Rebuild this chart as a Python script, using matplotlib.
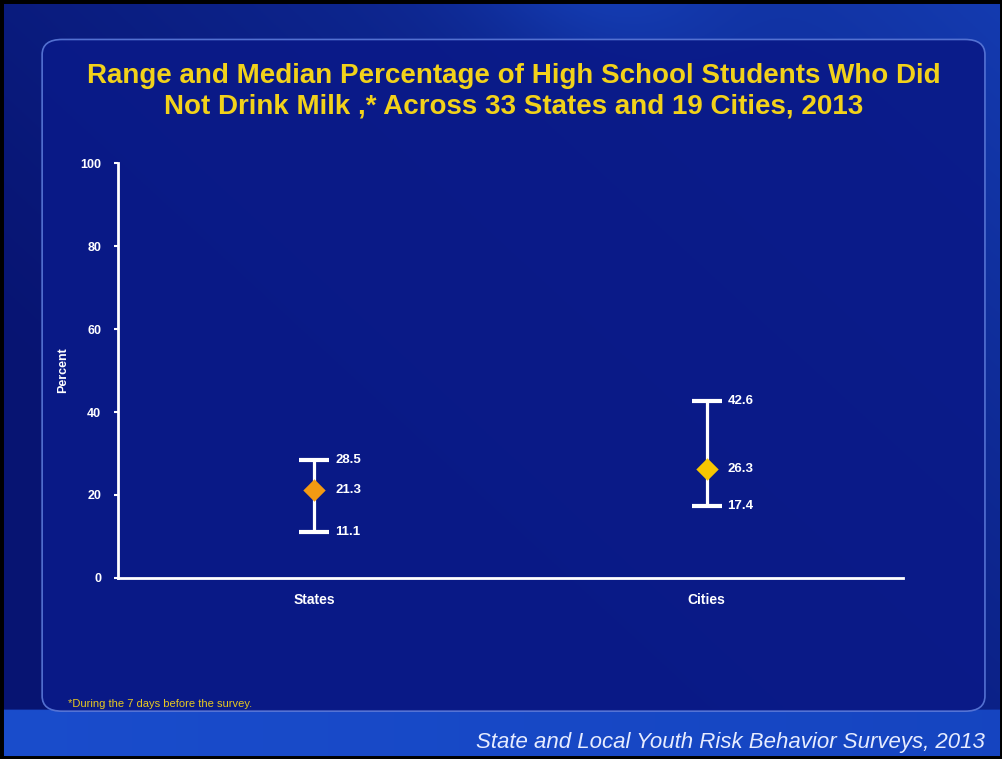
import numpy as np
import matplotlib.pyplot as plt
from matplotlib.patches import FancyBboxPatch, Rectangle

groups = ["States", "Cities"]
low = [11.1, 17.4]
median = [21.3, 26.3]
high = [28.5, 42.6]
yticks = [0, 20, 40, 60, 80, 100]
median_colors = ["#f39a12", "#f7c600"]

title = ("Range and Median Percentage of High School Students Who Did\n"
         "Not Drink Milk ,* Across 33 States and 19 Cities, 2013")
footnote = "*During the 7 days before the survey."
source = "State and Local Youth Risk Behavior Surveys, 2013"

plt.rcParams["font.family"] = ["Liberation Sans", "DejaVu Sans"]

fig = plt.figure(figsize=(10.03, 7.59), dpi=100)

# slide background
bg = fig.add_axes([0, 0, 1, 1], zorder=-10)
bg.set_xlim(0, 1)
bg.set_ylim(0, 1)
bg.axis("off")
gx, gy = np.meshgrid(np.linspace(0, 1, 400), np.linspace(0, 1, 400))
c_dark = np.array([0.03, 0.08, 0.45])
c_light = np.array([0.10, 0.30, 0.80])
t = np.clip(0.55 * gx + 0.45 * gy - 0.25, 0, 1) ** 1.3
# soft diagonal streak near the top
streak = np.exp(-((gx + 0.35 * gy - 0.95) / 0.12) ** 2) * np.clip((gy - 0.85) / 0.15, 0, 1)
t = np.clip(t + 0.25 * streak, 0, 1)
img = c_dark[None, None, :] * (1 - t[..., None]) + c_light[None, None, :] * t[..., None]
band = (gy < 0.065).astype(float)
band_col = np.array([0.10, 0.30, 0.80]) * (1 - gx[..., None] * 0.3) + np.array([0.05, 0.2, 0.65]) * gx[..., None] * 0.3
img = img * (1 - band[..., None]) + band_col * band[..., None]
bg.imshow(img, extent=[0, 1, 0, 1], origin="lower", aspect="auto")
panel = FancyBboxPatch((0.042, 0.063), 0.94, 0.885,
                       boxstyle="round,pad=0,rounding_size=0.02",
                       facecolor="#0a1a88", edgecolor="#5a78d8",
                       linewidth=1.2, alpha=0.92, transform=bg.transAxes)
bg.add_patch(panel)
bg.add_patch(Rectangle((0, 0), 1, 1, fill=False, edgecolor="black",
                       linewidth=5, transform=bg.transAxes))

ax = fig.add_axes([0.1176, 0.2385, 0.7827, 0.5467])
ax.set_facecolor("none")
x = np.array([1, 3])
lo_err = np.array(median) - np.array(low)
hi_err = np.array(high) - np.array(median)
ax.errorbar(x, median, yerr=[lo_err, hi_err], fmt="none", ecolor="white",
            elinewidth=2.3, capsize=11, capthick=3, zorder=2)
for i in range(len(groups)):
    ax.scatter(x[i], median[i], marker="D", s=130, color=median_colors[i],
               zorder=3, linewidths=0)
    for v in (low[i], median[i], high[i]):
        ax.annotate(f"{v:.1f}", (x[i], v), xytext=(15, 0),
                    textcoords="offset points", va="center", ha="left",
                    color="white", fontsize=9.5, fontweight="bold")

ax.set_xlim(0, 4)
ax.set_ylim(0, 100)
ax.set_xticks(x)
ax.set_xticklabels(groups, color="white", fontsize=10, fontweight="bold")
ax.tick_params(axis="x", length=0, pad=11)
ax.set_yticks(yticks)
ax.set_yticklabels([str(v) for v in yticks], color="white", fontsize=9,
                   fontweight="bold")
ax.tick_params(axis="y", length=3, width=1.5, color="white", pad=9)
ax.set_ylabel("Percent", color="white", fontsize=9, fontweight="bold",
              labelpad=8)
for s in ["top", "right"]:
    ax.spines[s].set_visible(False)
for s in ["left", "bottom"]:
    ax.spines[s].set_color("white")
    ax.spines[s].set_linewidth(2)

fig.text(0.512, 0.88, title, ha="center", va="center", color="#f2d21a",
         fontsize=20, fontweight="bold", linespacing=1.25)
fig.text(0.068, 0.073, footnote, ha="left", va="center", color="#e8c820",
         fontsize=8)
fig.text(0.982, 0.022, source, ha="right", va="center", color="#e6ecff",
         fontsize=16, style="italic")

fig.savefig("out.png", dpi=100)
